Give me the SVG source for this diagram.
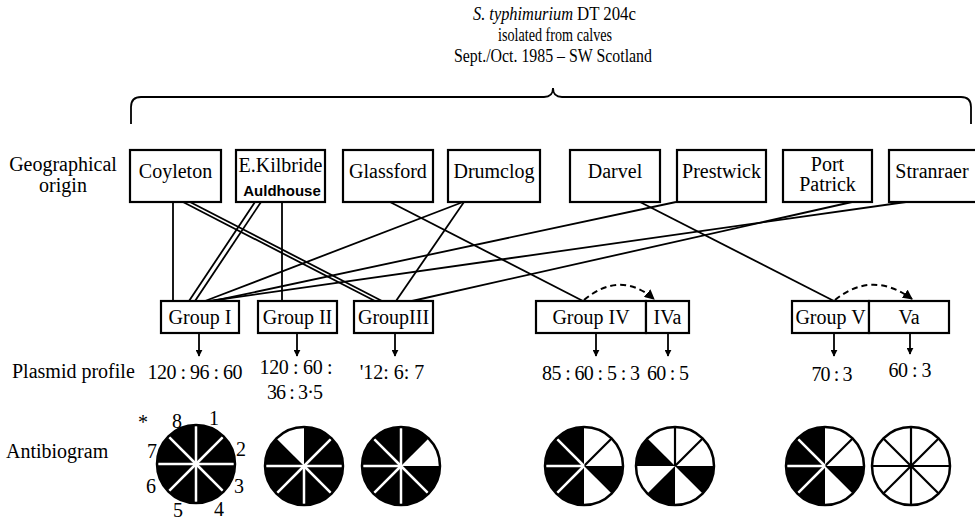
<svg xmlns="http://www.w3.org/2000/svg" xmlns:xlink="http://www.w3.org/1999/xlink" width="975" height="520" viewBox="0 0 975 520">
<style>
text{font-family:"Liberation Serif","Times New Roman",serif;font-size:20px;fill:#000}
.c{text-anchor:middle}
.t{font-size:18px}
.sans{font-family:"Liberation Sans",Arial,sans-serif;font-size:15px;font-weight:bold}
.box{fill:#fff;stroke:#000;stroke-width:2.2}
.ln{stroke:#000;stroke-width:1.8;fill:none}
.dash{stroke:#000;stroke-width:2;fill:none;stroke-dasharray:6,4}
.b{fill:#000}
.w{fill:#fff}
.rw{stroke:#fff;stroke-width:2.5}
.rb{stroke:#000;stroke-width:2.2}
.rim{fill:none;stroke:#000;stroke-width:2.5}
</style>
<defs>
<marker id="ah" viewBox="0 0 10 10" refX="9" refY="5" markerWidth="7" markerHeight="7" orient="auto" markerUnits="userSpaceOnUse">
<path d="M0,0 L10,5 L0,10 Z" fill="#000"/>
</marker>
<marker id="ah2" viewBox="0 0 10 10" refX="9" refY="5" markerWidth="10" markerHeight="10" orient="auto" markerUnits="userSpaceOnUse">
<path d="M0,0 L10,5 L0,10 Z" fill="#000"/>
</marker>
<path id="s1" d="M0,0 L0,-39 A39,39 0 0 1 27.58,-27.58 Z"/>
<path id="s2" d="M0,0 L27.58,-27.58 A39,39 0 0 1 39,0 Z"/>
<path id="s4" d="M0,0 L27.58,27.58 A39,39 0 0 1 0,39 Z"/>
<path id="s6" d="M0,0 L-27.58,27.58 A39,39 0 0 1 -39,0 Z"/>
<path id="s8" d="M0,0 L-27.58,-27.58 A39,39 0 0 1 0,-39 Z"/>
<line id="r0" x1="0" y1="0" x2="0" y2="-39"/>
<line id="r1" x1="0" y1="0" x2="27.58" y2="-27.58"/>
<line id="r2" x1="0" y1="0" x2="39" y2="0"/>
<line id="r3" x1="0" y1="0" x2="27.58" y2="27.58"/>
<line id="r4" x1="0" y1="0" x2="0" y2="39"/>
<line id="r5" x1="0" y1="0" x2="-27.58" y2="27.58"/>
<line id="r6" x1="0" y1="0" x2="-39" y2="0"/>
<line id="r7" x1="0" y1="0" x2="-27.58" y2="-27.58"/>
<circle id="rim" r="39"/>
</defs>

<g id="title">
<text class="t" x="473" y="20" font-style="italic" textLength="100" lengthAdjust="spacingAndGlyphs">S. typhimurium</text>
<text class="t" x="577" y="20" textLength="59" lengthAdjust="spacingAndGlyphs">DT 204c</text>
<text class="c t" x="555" y="41" textLength="114" lengthAdjust="spacingAndGlyphs">isolated from calves</text>
<text class="c t" x="553" y="62" textLength="198" lengthAdjust="spacingAndGlyphs">Sept./Oct. 1985 – SW Scotland</text>
<path class="ln" d="M131,124 L131,107 Q131,97 141,97 L544,97 Q553,97 553,88 Q553,97 562,97 L961,97 Q971,97 971,107 L971,124"/>
</g>

<g id="row-labels">
<text class="c" x="63" y="171">Geographical</text>
<text class="c" x="63" y="192">origin</text>
<text x="12" y="378">Plasmid profile</text>
<text x="6" y="458">Antibiogram</text>
</g>

<g id="connectors">
<line class="ln" x1="173" y1="202" x2="173" y2="301"/>
<line class="ln" x1="183" y1="202" x2="375" y2="301"/>
<line class="ln" x1="190" y1="202" x2="382" y2="301"/>
<line class="ln" x1="255" y1="202" x2="189" y2="301"/>
<line class="ln" x1="261" y1="202" x2="195" y2="301"/>
<line class="ln" x1="282" y1="202" x2="282" y2="301"/>
<line class="ln" x1="390" y1="202" x2="583" y2="301"/>
<line class="ln" x1="463" y1="202" x2="205" y2="301"/>
<line class="ln" x1="464" y1="202" x2="396" y2="301"/>
<line class="ln" x1="640" y1="202" x2="834" y2="301"/>
<line class="ln" x1="676" y1="202" x2="213" y2="301"/>
<line class="ln" x1="852" y1="202" x2="412" y2="301"/>
<line class="ln" x1="906" y1="202" x2="209" y2="301"/>
<path class="dash" d="M584,300 Q620,270 654,299" marker-end="url(#ah2)"/>
<path class="dash" d="M835,300 Q872,270 912,299" marker-end="url(#ah2)"/>
<line class="ln" x1="199" y1="333" x2="199" y2="356" marker-end="url(#ah)"/>
<line class="ln" x1="297" y1="333" x2="297" y2="356" marker-end="url(#ah)"/>
<line class="ln" x1="395" y1="333" x2="395" y2="356" marker-end="url(#ah)"/>
<line class="ln" x1="596" y1="333" x2="596" y2="356" marker-end="url(#ah)"/>
<line class="ln" x1="668" y1="333" x2="668" y2="356" marker-end="url(#ah)"/>
<line class="ln" x1="834" y1="333" x2="834" y2="356" marker-end="url(#ah)"/>
<line class="ln" x1="910" y1="333" x2="910" y2="354" marker-end="url(#ah)"/>
</g>

<g id="coyleton"><rect class="box" x="130" y="150" width="91" height="52"/><text class="c" x="175.5" y="178">Coyleton</text></g>
<g id="ekilbride"><rect class="box" x="236" y="150" width="89" height="52"/><text class="c" x="280.5" y="172">E.Kilbride</text><text class="c sans" x="282" y="196">Auldhouse</text></g>
<g id="glassford"><rect class="box" x="343" y="150" width="90" height="52"/><text class="c" x="388" y="178">Glassford</text></g>
<g id="drumclog"><rect class="box" x="448" y="150" width="92" height="52"/><text class="c" x="494" y="178">Drumclog</text></g>
<g id="darvel"><rect class="box" x="570" y="150" width="90" height="52"/><text class="c" x="615" y="178">Darvel</text></g>
<g id="prestwick"><rect class="box" x="677" y="150" width="89" height="52"/><text class="c" x="721.5" y="178">Prestwick</text></g>
<g id="portpatrick"><rect class="box" x="783" y="150" width="89" height="52"/><text class="c" x="827.5" y="171">Port</text><text class="c" x="827.5" y="191">Patrick</text></g>
<g id="stranraer"><rect class="box" x="889" y="150" width="90" height="52"/><text class="c" x="932" y="178">Stranraer</text></g>

<g id="group1"><rect class="box" x="161" y="301" width="78" height="32"/><text class="c" x="200" y="324">Group I</text></g>
<g id="group2"><rect class="box" x="258" y="301" width="79" height="32"/><text class="c" x="297.5" y="324">Group II</text></g>
<g id="group3"><rect class="box" x="354" y="301" width="79" height="32"/><text class="c" x="393.5" y="324">GroupIII</text></g>
<g id="group4"><rect class="box" x="536" y="301" width="110" height="32"/><text class="c" x="591" y="324">Group IV</text></g>
<g id="group4a"><rect class="box" x="646" y="301" width="43" height="32"/><text class="c" x="667.5" y="324">IVa</text></g>
<g id="group5"><rect class="box" x="792" y="301" width="77" height="32"/><text class="c" x="830.5" y="324">Group V</text></g>
<g id="group5a"><rect class="box" x="869" y="301" width="80" height="32"/><text class="c" x="909" y="324">Va</text></g>

<g id="plasmids">
<text class="c" x="195" y="379" textLength="95" lengthAdjust="spacing">120 : 96 : 60</text>
<text class="c" x="296" y="374" textLength="73" lengthAdjust="spacing">120 : 60 :</text>
<text class="c" x="295" y="399" textLength="56" lengthAdjust="spacing">36 : 3·5</text>
<text class="c" x="392" y="379">'12: 6: 7</text>
<text class="c" x="591" y="380" textLength="98" lengthAdjust="spacing">85 : 60 : 5 : 3</text>
<text class="c" x="668" y="380" textLength="42" lengthAdjust="spacing">60 : 5</text>
<text class="c" x="832" y="381" textLength="41" lengthAdjust="spacing">70 : 3</text>
<text class="c" x="910" y="377" textLength="43" lengthAdjust="spacing">60 : 3</text>
</g>

<g id="pie1" transform="translate(196,464)">
<circle r="39" class="b"/>
<use xlink:href="#r0" class="rw"/><use xlink:href="#r1" class="rw"/><use xlink:href="#r2" class="rw"/><use xlink:href="#r3" class="rw"/>
<use xlink:href="#r4" class="rw"/><use xlink:href="#r5" class="rw"/><use xlink:href="#r6" class="rw"/><use xlink:href="#r7" class="rw"/>
<use xlink:href="#rim" class="rim"/>
</g>
<g id="pie1-labels">
<text x="138" y="429" font-size="18">*</text>
<text class="c" x="177" y="428">8</text>
<text class="c" x="214" y="425">1</text>
<text class="c" x="241" y="456">2</text>
<text class="c" x="239" y="493">3</text>
<text class="c" x="219" y="516" font-size="19">4</text>
<text class="c" x="178" y="517" font-size="19">5</text>
<text class="c" x="151" y="493">6</text>
<text class="c" x="152" y="458">7</text>
</g>
<g id="pie2" transform="translate(304,466)">
<circle r="39" class="b"/><use xlink:href="#s8" class="w"/>
<use xlink:href="#r1" class="rw"/><use xlink:href="#r2" class="rw"/><use xlink:href="#r3" class="rw"/>
<use xlink:href="#r4" class="rw"/><use xlink:href="#r5" class="rw"/><use xlink:href="#r6" class="rw"/>
<use xlink:href="#rim" class="rim"/>
</g>
<g id="pie3" transform="translate(401,466)">
<circle r="39" class="b"/><use xlink:href="#s2" class="w"/>
<use xlink:href="#r0" class="rw"/><use xlink:href="#r3" class="rw"/>
<use xlink:href="#r4" class="rw"/><use xlink:href="#r5" class="rw"/><use xlink:href="#r6" class="rw"/><use xlink:href="#r7" class="rw"/>
<use xlink:href="#rim" class="rim"/>
</g>
<g id="pie4" transform="translate(584,466)">
<circle r="39" class="b"/><use xlink:href="#s1" class="w"/><use xlink:href="#s2" class="w"/><use xlink:href="#s4" class="w"/>
<use xlink:href="#r1" class="rb"/><use xlink:href="#r5" class="rw"/><use xlink:href="#r6" class="rw"/><use xlink:href="#r7" class="rw"/>
<use xlink:href="#rim" class="rim"/>
</g>
<g id="pie5" transform="translate(675,466)">
<circle r="39" class="b"/><use xlink:href="#s1" class="w"/><use xlink:href="#s2" class="w"/><use xlink:href="#s4" class="w"/><use xlink:href="#s6" class="w"/><use xlink:href="#s8" class="w"/>
<use xlink:href="#r0" class="rb"/><use xlink:href="#r1" class="rb"/>
<use xlink:href="#rim" class="rim"/>
</g>
<g id="pie6" transform="translate(825,466)">
<circle r="39" class="b"/><use xlink:href="#s1" class="w"/><use xlink:href="#s2" class="w"/><use xlink:href="#s4" class="w"/>
<use xlink:href="#r1" class="rb"/><use xlink:href="#r5" class="rw"/><use xlink:href="#r6" class="rw"/><use xlink:href="#r7" class="rw"/>
<use xlink:href="#rim" class="rim"/>
</g>
<g id="pie7" transform="translate(911,466)">
<circle r="39" class="w"/>
<use xlink:href="#r0" class="rb"/><use xlink:href="#r1" class="rb"/><use xlink:href="#r2" class="rb"/><use xlink:href="#r3" class="rb"/>
<use xlink:href="#r4" class="rb"/><use xlink:href="#r5" class="rb"/><use xlink:href="#r6" class="rb"/><use xlink:href="#r7" class="rb"/>
<use xlink:href="#rim" class="rim"/>
</g>
</svg>
